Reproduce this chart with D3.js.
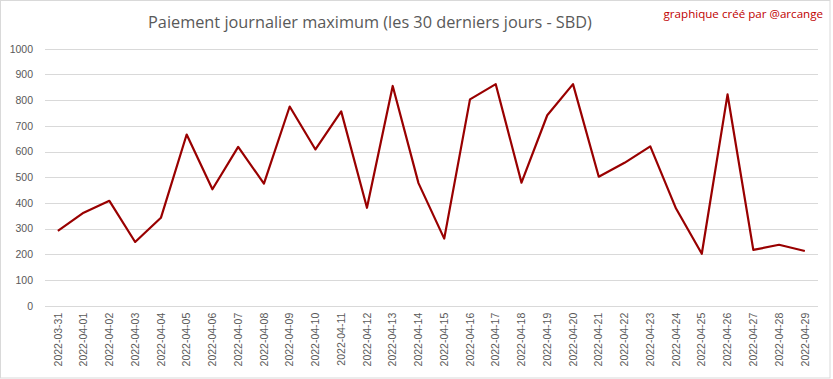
<!DOCTYPE html>
<meta charset="utf-8">
<style>
body { margin: 0; background: #fff; }
svg { display: block; font-family: "Open Sans", sans-serif; }
.axis text { fill: #595959; }
.axis path, .axis line { display: none; }
.grid line { stroke: #d9d9d9; stroke-width: 1px; shape-rendering: crispEdges; }
.grid path { display: none; }
.path-line { fill: none; stroke: #990000; stroke-width: 2.2px; stroke-linejoin: round; }
</style>
<body>
<div id="chart"></div>
<script src="https://d3js.org/d3.v7.min.js"></script>
<script>
var dates = ["2022-03-31","2022-04-01","2022-04-02","2022-04-03","2022-04-04","2022-04-05",
  "2022-04-06","2022-04-07","2022-04-08","2022-04-09","2022-04-10","2022-04-11","2022-04-12",
  "2022-04-13","2022-04-14","2022-04-15","2022-04-16","2022-04-17","2022-04-18","2022-04-19",
  "2022-04-20","2022-04-21","2022-04-22","2022-04-23","2022-04-24","2022-04-25","2022-04-26",
  "2022-04-27","2022-04-28","2022-04-29"];
var maxPayout = [291, 362, 408, 248, 342, 666, 453, 618, 475, 775, 608, 756, 381, 855,
  477, 261, 803, 862, 479, 741, 862, 502, 556, 620, 378, 202, 822, 217, 237, 213];
var yTicks = [0, 100, 200, 300, 400, 500, 600, 700, 800, 900, 1000];
var titleText = "Paiement journalier maximum (les 30 derniers jours - SBD)";
var creditText = "graphique créé par @arcange";

var W = 833, H = 379,
    margin = {top: 48.7, right: 15.3, bottom: 73.3, left: 45},
    width = W - margin.left - margin.right,
    height = H - margin.top - margin.bottom;

var svg = d3.select("#chart").append("svg")
    .attr("width", W)
    .attr("height", H);

// chart border
svg.append("rect")
    .attr("x", 0.5).attr("y", 0.5)
    .attr("width", 829.5).attr("height", 377.5)
    .attr("fill", "none")
    .attr("stroke", "#d9d9d9");

svg.append("text")
    .attr("x", 370).attr("y", 28)
    .attr("text-anchor", "middle")
    .style("font-size", "16.3px")
    .style("fill", "#595959")
    .text(titleText);

svg.append("text")
    .attr("x", 823).attr("y", 18)
    .attr("text-anchor", "end")
    .style("font-size", "11.6px")
    .style("fill", "#c00000")
    .text(creditText);

var g = svg.append("g")
    .attr("transform", "translate(" + margin.left + "," + margin.top + ")");

var xScale = d3.scaleBand().domain(dates).range([0, width]);
var yScale = d3.scaleLinear().domain([0, 1000]).range([height, 0]);

g.append("g")
    .attr("class", "grid")
    .call(d3.axisLeft(yScale).tickValues(yTicks).tickSize(-width).tickFormat(""));

g.append("g")
    .attr("class", "axis axis--y")
    .call(d3.axisLeft(yScale).tickValues(yTicks).tickSize(0).tickPadding(12).tickFormat(d3.format("d")))
    .selectAll("text")
    .style("font-size", "10.5px")
    .style("font-family", "'Liberation Sans', sans-serif");

g.append("g")
    .attr("class", "axis axis--x")
    .attr("transform", "translate(0," + height + ")")
    .call(d3.axisBottom(xScale).tickSize(0).tickPadding(0))
    .selectAll("text")
    .style("font-size", "10.5px")
    .style("font-family", "'Liberation Sans', sans-serif")
    .attr("text-anchor", "end")
    .attr("dy", "0.35em")
    .attr("dx", 0)
    .attr("transform", "translate(0,7) rotate(-90)")
    .attr("x", 0).attr("y", 0);

var line = d3.line()
    .x(function(d, i) { return xScale(dates[i]) + xScale.bandwidth() / 2; })
    .y(function(d) { return yScale(d); });

g.append("path")
    .datum(maxPayout)
    .attr("class", "path-line")
    .attr("d", line);
</script>
